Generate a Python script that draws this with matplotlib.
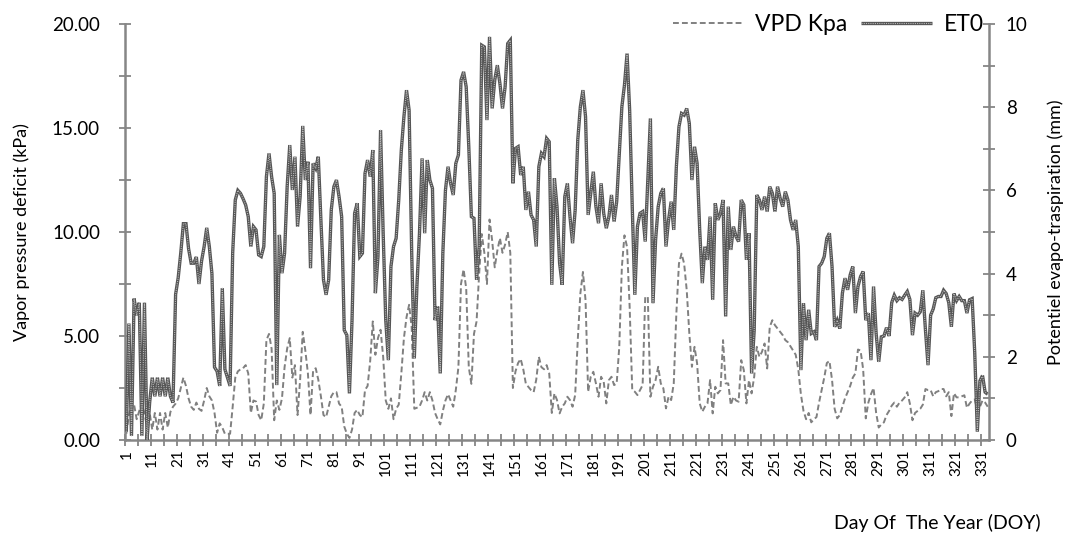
import numpy as np
import matplotlib
matplotlib.use('Agg')
import matplotlib.pyplot as plt
from matplotlib.ticker import FixedLocator, FuncFormatter

plt.rcParams['font.family'] = ['Lato', 'DejaVu Sans']

# ── Data (DOY 1..333) ─────────────────────────────────────────────────────────
doy = np.arange(1, 334)

vpd_kpa = [
    0.3, 1.2, 1.8, 1.7, 1.0, 1.4, 1.75, 1.3, 0.6, 1.3,
    0.5, 1.3, 0.5, 1.3, 0.5, 1.3, 0.6, 1.35, 1.6, 1.75,
    2.0, 2.5, 3.0, 2.6, 2.0, 1.6, 1.45, 1.8, 1.5, 1.4,
    1.9, 2.5, 2.1, 1.9, 1.3, 0.35, 0.8, 0.6, 0.3, 0.3,
    0.3, 1.6, 3.0, 3.3, 3.4, 3.45, 3.6, 3.2, 1.3, 1.9,
    1.85, 1.2, 0.95, 1.75, 4.8, 5.1, 4.4, 0.95, 1.9, 1.45,
    2.0, 3.5, 4.4, 4.9, 3.0, 3.6, 1.2, 2.9, 5.2, 4.3,
    3.2, 1.2, 3.35, 3.45, 2.9, 2.1, 1.2, 1.1, 1.6, 2.1,
    2.3, 2.3, 1.75, 1.6, 0.65, 0.3, 0.1, 0.5, 1.3, 1.45,
    1.2, 1.1, 2.4, 2.6, 3.8, 5.7, 4.1, 4.9, 5.3, 4.0,
    1.9, 1.5, 2.0, 1.0, 1.5, 1.7, 3.2, 4.9, 5.9, 6.5,
    5.4, 1.5, 1.55, 1.6, 1.9, 2.3, 1.9, 2.3, 1.9, 1.3,
    1.0, 0.75, 1.4, 1.9, 2.2, 1.9, 1.6, 2.4, 3.5, 7.5,
    8.2, 7.3, 3.5, 2.7, 5.1, 5.7, 8.0, 9.9, 9.0, 7.5,
    10.6, 9.6, 8.3, 9.1, 9.7, 9.0, 9.4, 10.0, 9.0, 2.5,
    3.3, 3.7, 3.9, 3.4, 2.7, 2.55, 2.4, 2.3, 2.9, 4.0,
    3.5, 3.4, 3.6, 3.2, 1.3, 2.24, 1.92, 1.28, 1.6, 1.76,
    2.08, 1.92, 1.6, 2.16, 4.8, 7.04, 8.08, 6.72, 2.32, 3.04,
    3.28, 2.72, 2.08, 3.04, 2.8, 1.76, 2.88, 3.04, 2.64, 2.72,
    4.48, 8.32, 9.84, 9.28, 6.4, 2.4, 2.32, 2.16, 2.4, 2.64,
    6.88, 6.88, 2.08, 2.56, 2.88, 3.52, 2.72, 2.48, 1.52, 2.08,
    1.92, 2.72, 6.08, 8.48, 8.96, 8.48, 7.2, 5.12, 3.52, 4.48,
    3.68, 1.76, 1.36, 1.6, 1.76, 2.88, 1.28, 2.56, 2.24, 2.4,
    4.8, 2.72, 2.72, 1.68, 2.08, 1.9, 1.84, 3.84, 3.36, 1.76,
    2.88, 2.24, 3.04, 4.48, 4.0, 4.24, 4.64, 3.44, 5.44, 5.76,
    5.52, 5.36, 5.2, 5.04, 4.8, 4.7, 4.5, 4.3, 4.1, 3.4,
    2.2, 1.4, 1.0, 1.3, 0.85, 1.0, 1.1, 1.8, 2.4, 3.0,
    3.7, 3.8, 2.9, 1.5, 1.04, 1.2, 1.6, 2.0, 2.3, 2.6,
    3.0, 3.2, 4.35, 4.3, 3.4, 1.04, 1.8, 2.2, 2.5, 1.3,
    0.6, 0.75, 0.85, 1.2, 1.4, 1.65, 1.8, 1.6, 1.8, 1.9,
    2.05, 2.3, 1.75, 0.95, 1.3, 1.4, 1.5, 1.7, 2.45, 2.4,
    2.4, 2.1, 2.3, 2.35, 2.45, 2.45, 2.1, 2.3, 1.15, 2.25,
    2.05, 2.05, 2.1, 2.15, 1.55, 1.75, 1.9, 1.95, 1.4, 1.6,
    1.9, 1.8, 1.6,
]

et0_mm = [
    0.2, 2.8, 0.1, 3.4, 3.0, 3.3, 0.1, 3.3, 0.0, 0.9,
    1.5, 1.05, 1.5, 1.05, 1.5, 1.05, 1.5, 1.05, 0.9, 3.5,
    3.9, 4.5, 5.2, 5.2, 4.6, 4.25, 4.25, 4.4, 3.75, 4.3,
    4.65, 5.1, 4.65, 4.0, 1.75, 1.65, 1.3, 3.65, 1.7, 1.5,
    1.3, 4.5, 5.77, 6.0, 5.93, 5.8, 5.65, 5.37, 4.65, 5.13,
    5.05, 4.45, 4.41, 4.65, 6.33, 6.89, 6.33, 5.93, 1.32, 4.93,
    4.01, 4.49, 6.09, 7.09, 6.01, 6.81, 5.13, 5.85, 7.55, 6.25,
    6.69, 4.13, 6.65, 6.53, 6.81, 5.29, 3.85, 3.49, 3.85, 5.53,
    6.09, 6.25, 5.85, 5.37, 2.64, 2.52, 1.12, 2.88, 5.45, 5.69,
    4.41, 4.49, 6.41, 6.73, 6.33, 6.97, 3.53, 4.41, 7.45, 4.97,
    2.88, 1.92, 4.17, 4.65, 4.85, 5.77, 6.97, 7.77, 8.41, 7.93,
    4.49, 1.96, 3.69, 4.97, 6.77, 4.97, 6.73, 6.25, 6.05, 2.88,
    3.21, 1.6, 4.49, 6.0, 6.57, 6.17, 5.89, 6.65, 6.85, 8.65,
    8.85, 8.49, 7.05, 5.37, 5.33, 3.85, 4.65, 9.49, 9.45, 7.69,
    9.69, 7.97, 8.65, 9.01, 8.57, 7.97, 8.49, 9.53, 9.61, 6.17,
    7.01, 7.05, 6.37, 6.57, 5.53, 5.97, 5.41, 5.29, 4.65, 6.57,
    6.89, 6.81, 7.25, 7.17, 3.73, 6.29, 5.61, 4.25, 3.73, 5.85,
    6.17, 5.37, 4.73, 5.53, 7.21, 8.01, 8.41, 7.77, 5.41, 5.93,
    6.45, 5.61, 5.21, 6.17, 5.45, 5.09, 5.37, 5.89, 5.25, 5.73,
    6.89, 8.01, 8.53, 9.29, 7.93, 5.61, 3.49, 5.13, 5.45, 5.49,
    4.77, 6.25, 7.73, 3.29, 4.81, 5.61, 5.93, 6.05, 4.65, 5.29,
    5.73, 5.05, 6.57, 7.53, 7.85, 7.81, 7.97, 7.61, 6.25, 7.05,
    6.65, 5.05, 3.77, 4.65, 4.33, 5.37, 3.37, 5.69, 5.29, 5.45,
    5.77, 2.97, 5.61, 4.57, 5.13, 4.89, 4.77, 5.77, 5.65, 4.33,
    4.97, 1.6, 2.64, 5.89, 5.77, 5.53, 5.85, 5.49, 6.09, 5.93,
    5.49, 6.09, 5.81, 5.61, 5.97, 5.77, 5.29, 5.05, 5.29, 4.65,
    1.68, 3.29, 2.4, 3.13, 2.56, 2.6, 2.4, 4.17, 4.25, 4.41,
    4.85, 4.97, 4.17, 2.72, 2.88, 2.68, 3.53, 3.89, 3.61, 3.97,
    4.17, 3.05, 3.69, 3.93, 4.05, 2.88, 3.05, 1.92, 3.69, 2.56,
    1.88, 2.48, 2.5, 2.7, 2.5, 3.3, 3.48, 3.35, 3.42, 3.38,
    3.48, 3.57, 3.38, 2.52, 3.05, 3.0, 3.08, 3.6, 2.65, 1.8,
    3.0, 3.15, 3.42, 3.45, 3.45, 3.6, 3.52, 3.3, 2.72, 3.52,
    3.35, 3.45, 3.35, 3.35, 3.05, 3.37, 3.4, 2.1, 0.2, 1.42,
    1.55, 1.15, 1.1,
]

x_labels = list(range(1, 334, 10))   # 1, 11, ..., 331

# ── Figure ────────────────────────────────────────────────────────────────────
fig = plt.figure(figsize=(10.69, 5.33), dpi=100)
ax = fig.add_axes([125 / 1069, 1 - 440 / 533, (989 - 125) / 1069, (440 - 24) / 533])
ax2 = ax.twinx()

SPINE = '#868686'

vpd_line, = ax.plot(doy, vpd_kpa, color='#808080', lw=1.4,
                    linestyle=(0, (3.0, 1.6)), label='VPD Kpa')

et_outer, = ax2.plot(doy, et0_mm, color='#555555', lw=2.4,
                     solid_joinstyle='miter', solid_capstyle='butt')
et_inner, = ax2.plot(doy, et0_mm, color='#b8b8b8', lw=0.8,
                     linestyle=(0, (1, 1)))

# axes limits
ax.set_xlim(0.5, 333.5)
ax.set_ylim(0, 20)
ax2.set_ylim(0, 10)

# x ticks: labels on categories, tick marks between every 5
ax.set_xticks(x_labels)
ax.set_xticklabels([str(v) for v in x_labels], rotation=90, fontsize=11)
ax.xaxis.set_minor_locator(FixedLocator(np.arange(0.5, 334, 5)))
ax.tick_params(axis='x', which='major', length=0, pad=7)
ax.tick_params(axis='x', which='minor', length=8, direction='inout',
               color=SPINE, width=1.3)

# left y ticks
ax.set_yticks(np.arange(0, 20.1, 5))
ax.yaxis.set_major_formatter(FuncFormatter(lambda v, _: f'{v:.2f}'))
ax.yaxis.set_minor_locator(FixedLocator(np.arange(0, 20.1, 2.5)))
ax.tick_params(axis='y', which='both', length=8, direction='inout',
               color=SPINE, width=1.3, labelsize=13.5, pad=14)

# right y ticks
ax2.set_yticks(np.arange(0, 10.1, 2))
ax2.yaxis.set_major_formatter(FuncFormatter(lambda v, _: f'{v:.0f}'))
ax2.yaxis.set_minor_locator(FixedLocator(np.arange(0, 10.1, 1)))
ax2.tick_params(axis='y', which='both', length=8, direction='inout',
                color=SPINE, width=1.3, labelsize=13.5, pad=8)

for a in (ax, ax2):
    a.spines['top'].set_visible(False)
    for s in ('left', 'right', 'bottom'):
        a.spines[s].set_color(SPINE)
        a.spines[s].set_linewidth(1.8)
ax.spines['right'].set_visible(False)
ax2.spines['left'].set_visible(False)
ax2.spines['bottom'].set_visible(False)

ax.set_ylabel('Vapor pressure deficit (kPa)', fontsize=13, labelpad=16)
ax2.set_ylabel('Potentiel evapo-traspiration (mm)', fontsize=13, labelpad=14)
fig.text(937 / 1069, 1 - 523 / 533, 'Day Of  The Year (DOY)', fontsize=14,
         ha='center', va='center')

ax2.legend([vpd_line, (et_outer, et_inner)], ['VPD Kpa', 'ET0'],
           loc='upper right', bbox_to_anchor=(0.999, 1.035), ncol=2,
           frameon=False, fontsize=16.5, handlelength=3.1,
           columnspacing=0.6, handletextpad=0.5, borderaxespad=0,
           borderpad=0.2)

fig.savefig('out.png', dpi=100)
